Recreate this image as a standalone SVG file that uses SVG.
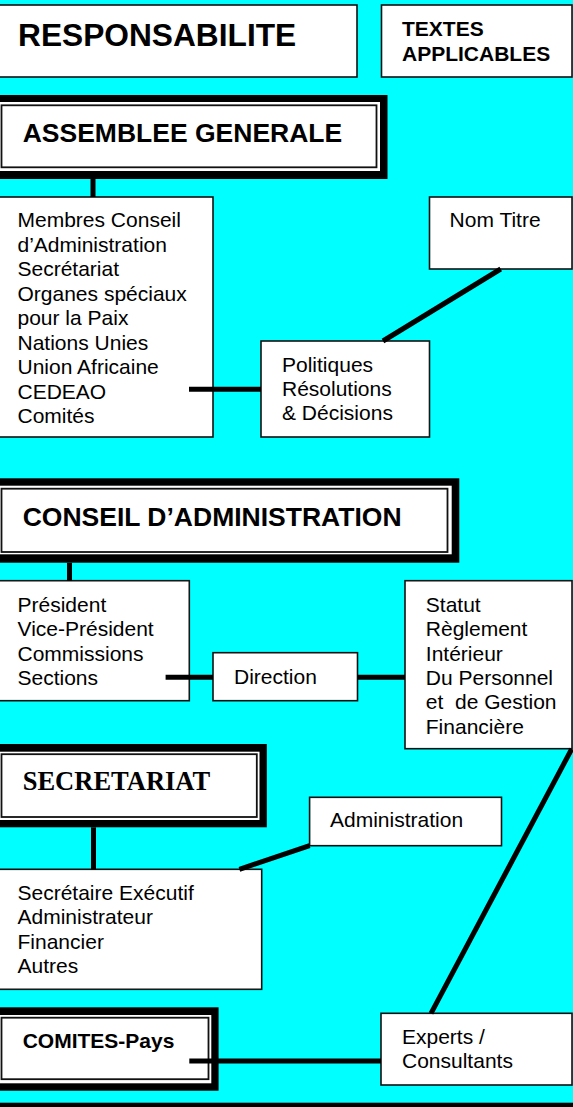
<svg xmlns="http://www.w3.org/2000/svg" width="573" height="1107" viewBox="0 0 573 1107">
<style>
.box{fill:#fff;stroke:#111;stroke-width:1.6}
.frame-outer{fill:#000}
.frame-inner{fill:#fff}
.frame-line{fill:none;stroke:#111;stroke-width:1.8}
.t{font-family:"Liberation Sans",Arial,sans-serif;font-size:21px;fill:#000}
.b{font-family:"Liberation Sans",Arial,sans-serif;font-weight:bold;fill:#000}
.s{font-family:"Liberation Serif","Times New Roman",serif;font-weight:bold;fill:#000}
.c{stroke:#000;stroke-width:5;fill:none}
</style>
<rect x="0" y="0" width="573" height="1107" fill="#00FFFF"/>

<g id="responsabilite">
<rect class="box" x="-1" y="5" width="358" height="72"/>
<text class="b" x="18" y="46" font-size="31.7">RESPONSABILITE</text>
</g>
<g id="textes-applicables">
<rect class="box" x="381.5" y="5" width="190.5" height="72"/>
<text class="b" x="402" y="35.5" font-size="21">TEXTES</text>
<text class="b" x="402" y="61" font-size="21">APPLICABLES</text>
</g>

<g id="assemblee-generale">
<rect class="frame-outer" x="-10" y="95" width="397.5" height="84"/>
<rect class="frame-inner" x="-10" y="102" width="390" height="69"/>
<rect class="frame-line" x="1.5" y="105.3" width="375" height="62"/>
<text class="b" x="22.7" y="142" font-size="26.5">ASSEMBLEE GENERALE</text>
</g>

<g id="membres">
<rect class="box" x="-1" y="197" width="214" height="240"/>
<text class="t" x="17.5" y="227">Membres Conseil</text>
<text class="t" x="17.5" y="251.5">d’Administration</text>
<text class="t" x="17.5" y="276">Secrétariat</text>
<text class="t" x="17.5" y="300.5">Organes spéciaux</text>
<text class="t" x="17.5" y="325">pour la Paix</text>
<text class="t" x="17.5" y="349.5">Nations Unies</text>
<text class="t" x="17.5" y="374">Union Africaine</text>
<text class="t" x="17.5" y="398.5">CEDEAO</text>
<text class="t" x="17.5" y="423">Comités</text>
</g>

<g id="nom-titre">
<rect class="box" x="429.5" y="197" width="142.5" height="72"/>
<text class="t" x="449.6" y="226.7">Nom Titre</text>
</g>

<g id="politiques">
<rect class="box" x="261" y="341" width="168.5" height="96"/>
<text class="t" x="282" y="371.7">Politiques</text>
<text class="t" x="282" y="396">Résolutions</text>
<text class="t" x="282" y="420.3">&amp; Décisions</text>
</g>

<g id="conseil-administration">
<rect class="frame-outer" x="-10" y="478.3" width="469.3" height="84.4"/>
<rect class="frame-inner" x="-10" y="485.7" width="461.7" height="68.6"/>
<rect class="frame-line" x="1.5" y="488.7" width="446" height="63.3"/>
<text class="b" x="22.7" y="525.7" font-size="26.5">CONSEIL D’ADMINISTRATION</text>
</g>

<g id="president">
<rect class="box" x="-1" y="580.7" width="190.3" height="120"/>
<text class="t" x="17.5" y="611.7">Président</text>
<text class="t" x="17.5" y="636">Vice-Président</text>
<text class="t" x="17.5" y="660.5">Commissions</text>
<text class="t" x="17.5" y="685">Sections</text>
</g>

<g id="direction">
<rect class="box" x="213" y="652.7" width="144.5" height="48"/>
<text class="t" x="234" y="684">Direction</text>
</g>

<g id="statut">
<rect class="box" x="405" y="580.7" width="167" height="168"/>
<text class="t" x="425.8" y="611.7">Statut</text>
<text class="t" x="425.8" y="636">Règlement</text>
<text class="t" x="425.8" y="660.5">Intérieur</text>
<text class="t" x="425.8" y="685">Du Personnel</text>
<text class="t" x="425.8" y="709.3" xml:space="preserve">et  de Gestion</text>
<text class="t" x="425.8" y="733.5">Financière</text>
</g>

<g id="secretariat">
<rect class="frame-outer" x="-10" y="744" width="276.8" height="83.3"/>
<rect class="frame-inner" x="-10" y="751.7" width="269.5" height="68.3"/>
<rect class="frame-line" x="1.5" y="754.2" width="255.3" height="62.8"/>
<text class="s" x="22.7" y="790" font-size="26.5">SECRETARIAT</text>
</g>

<g id="administration">
<rect class="box" x="309.6" y="797.3" width="191.9" height="48.4"/>
<text class="t" x="330" y="827.3">Administration</text>
</g>

<g id="secretaire">
<rect class="box" x="-1" y="869.3" width="262.7" height="120"/>
<text class="t" x="17.5" y="900">Secrétaire Exécutif</text>
<text class="t" x="17.5" y="924.3">Administrateur</text>
<text class="t" x="17.5" y="948.5">Financier</text>
<text class="t" x="17.5" y="972.5">Autres</text>
</g>

<g id="comites-pays">
<rect class="frame-outer" x="-10" y="1007.3" width="228.6" height="83.4"/>
<rect class="frame-inner" x="-10" y="1015" width="221.3" height="68.3"/>
<rect class="frame-line" x="1.5" y="1017.7" width="207" height="61.5"/>
<text class="b" x="22.7" y="1048.3" font-size="21">COMITES-Pays</text>
</g>

<g id="experts">
<rect class="box" x="381" y="1013.3" width="191" height="71.7"/>
<text class="t" x="402" y="1044">Experts /</text>
<text class="t" x="402" y="1068.3">Consultants</text>
</g>

<g id="connectors">
<line class="c" x1="93" y1="179" x2="93" y2="197"/>
<line class="c" x1="500.7" y1="269" x2="383" y2="341"/>
<line class="c" x1="189" y1="389.3" x2="261" y2="389.3"/>
<line class="c" x1="69.5" y1="562.7" x2="69.5" y2="580.7"/>
<line class="c" x1="165.6" y1="677.3" x2="213" y2="677.3"/>
<line class="c" x1="357.5" y1="677.3" x2="405" y2="677.3"/>
<line class="c" x1="571.7" y1="749" x2="431" y2="1013.3"/>
<line class="c" x1="93.5" y1="827.3" x2="93.5" y2="869.3"/>
<line class="c" x1="309.6" y1="845.7" x2="239.4" y2="869.3"/>
<line class="c" x1="189.3" y1="1061" x2="381" y2="1061"/>
</g>

<rect x="0" y="1102.7" width="573" height="5" fill="#000"/>
</svg>
